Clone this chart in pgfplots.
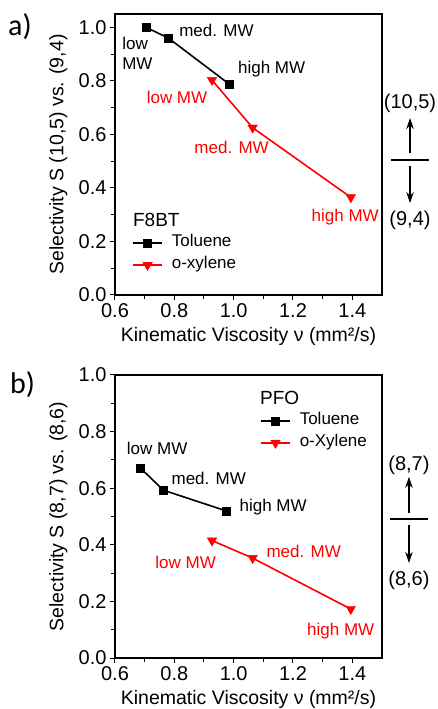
\documentclass[border=0pt]{standalone}
\usepackage{fontspec}
\setmainfont{Liberation Sans}
\newfontfamily\lblfont{Carlito}
\usepackage{pgfplots}
\pgfplotsset{compat=1.18}
\usetikzlibrary{arrows.meta}

\newcommand{\annfont}{\fontsize{17}{20}\selectfont}
\tikzset{arr/.style={line width=1.4pt, -{Stealth[length=11pt,width=7.5pt]}}}
\pgfplotsset{
  panel/.style={
    scale only axis, width=267pt,
    xmin=0.6, xmax=1.5, ymin=0,
    xtick={0.6,0.8,1.0,1.2,1.4},
    ytick={0,0.2,0.4,0.6,0.8,1.0},
    minor x tick num=1, minor y tick num=1,
    tick align=outside, tick pos=left,
    major tick length=5pt, minor tick length=4pt,
    every tick/.style={black, line width=1pt},
    axis line style={line width=1.2pt},
    /pgf/number format/assume math mode=true,
    /pgf/number format/fixed, /pgf/number format/fixed zerofill,
    /pgf/number format/precision=1,
    tick label style={font=\fontsize{20}{24}\selectfont},
    label style={font=\fontsize{19.5}{23}\selectfont},
    xlabel style={at={(axis description cs:0.5,-0.149)}, anchor=center},
    ylabel style={at={(axis description cs:-0.212,0.5)}, anchor=center},
    xlabel={Kinematic Viscosity ν (mm²/s)},
    clip=false,
    legend cell align=left,
    legend style={draw=none, fill=none, inner sep=0pt, row sep=6pt, column sep=9pt,
      font=\annfont, nodes={inner sep=0pt, text height=12pt, text depth=4pt}},
    legend image code/.code={
      \draw[mark repeat=2, mark phase=2, ##1] plot coordinates {(0pt,0pt) (14.5pt,0pt) (29pt,0pt)};},
  },
  tol/.style={black, line width=1.6pt, mark=square*, mark size=3.9pt, mark options={line width=0.4pt}},
  xyl/.style={red, line width=1.6pt, mark=triangle*, mark size=5.5pt, mark options={rotate=180, line width=0.4pt}},
}

\begin{document}
\begin{tikzpicture}
\path[use as bounding box] (-115pt,-51pt) rectangle (322pt,658pt);

% panel a
\begin{axis}[panel, height=281pt, ymax=1.05,
  at={(0pt,363pt)}, anchor=south west,
  ylabel={Selectivity S (10,5) vs. (9,4)},
  legend style={at={(axis description cs:0.064,0.146)}, anchor=west}]
\addplot[tol] coordinates {(0.705,1.0) (0.78,0.96) (0.985,0.788)};
\addlegendentry{Toluene}
\addplot[xyl] coordinates {(0.927,0.803) (1.064,0.625) (1.395,0.365)};
\addlegendentry{o-xylene}
\node[anchor=west, align=left, inner sep=0pt, font=\annfont] at (axis cs:0.624,0.904) {low\\MW};
\node[font=\annfont, inner sep=0pt] at (axis cs:0.942,0.990) {med. MW};
\node[font=\annfont, inner sep=0pt] at (axis cs:1.128,0.844) {high MW};
\node[font=\annfont, inner sep=0pt, red] at (axis cs:0.809,0.740) {low MW};
\node[font=\annfont, inner sep=0pt, red] at (axis cs:0.993,0.553) {med. MW};
\node[font=\annfont, inner sep=0pt, red] at (axis cs:1.376,0.291) {high MW};
\node[anchor=west, inner sep=0pt, font=\fontsize{19}{22}\selectfont] at (axis description cs:0.067,0.267) {F8BT};
\node[font=\lblfont\fontsize{30}{34}\selectfont, inner sep=0pt] at (axis description cs:-0.356,0.954) {a)};
\node[font=\fontsize{20}{24}\selectfont, inner sep=0pt] at (axis description cs:1.105,0.683) {(10,5)};
\node[font=\fontsize{20}{24}\selectfont, inner sep=0pt] at (axis description cs:1.105,0.267) {(9,4)};
\draw[arr] (axis description cs:1.105,0.505) -- (axis description cs:1.105,0.630);
\draw[line width=1.4pt] (axis description cs:1.034,0.480) -- (axis description cs:1.176,0.480);
\draw[arr] (axis description cs:1.105,0.459) -- (axis description cs:1.105,0.327);
\end{axis}

% panel b
\begin{axis}[panel, height=283pt, ymax=1.0,
  at={(0pt,0pt)}, anchor=south west,
  ylabel={Selectivity S (8,7) vs. (8,6)},
  xlabel style={at={(axis description cs:0.5,-0.148)}},
  legend style={at={(axis description cs:0.543,0.799)}, anchor=west}]
\addplot[tol] coordinates {(0.685,0.672) (0.763,0.593) (0.974,0.52)};
\addlegendentry{Toluene}
\addplot[xyl] coordinates {(0.927,0.415) (1.064,0.353) (1.395,0.173)};
\addlegendentry{o-Xylene}
\node[font=\annfont, inner sep=0pt] at (axis cs:0.742,0.742) {low MW};
\node[font=\annfont, inner sep=0pt] at (axis cs:0.916,0.636) {med. MW};
\node[font=\annfont, inner sep=0pt] at (axis cs:1.133,0.534) {high MW};
\node[font=\annfont, inner sep=0pt, red] at (axis cs:0.838,0.336) {low MW};
\node[font=\annfont, inner sep=0pt, red] at (axis cs:1.236,0.378) {med. MW};
\node[font=\annfont, inner sep=0pt, red] at (axis cs:1.361,0.095) {high MW};
\node[anchor=west, inner sep=0pt, font=\fontsize{19}{22}\selectfont] at (axis description cs:0.543,0.919) {PFO};
\node[font=\lblfont\fontsize{30}{34}\selectfont, inner sep=0pt] at (axis description cs:-0.346,0.965) {b)};
\node[font=\fontsize{20}{24}\selectfont, inner sep=0pt] at (axis description cs:1.101,0.682) {(8,7)};
\node[font=\fontsize{20}{24}\selectfont, inner sep=0pt] at (axis description cs:1.101,0.276) {(8,6)};
\draw[arr] (axis description cs:1.101,0.512) -- (axis description cs:1.101,0.640);
\draw[line width=1.4pt] (axis description cs:1.030,0.491) -- (axis description cs:1.172,0.491);
\draw[arr] (axis description cs:1.101,0.470) -- (axis description cs:1.101,0.336);
\end{axis}
\end{tikzpicture}
\end{document}
